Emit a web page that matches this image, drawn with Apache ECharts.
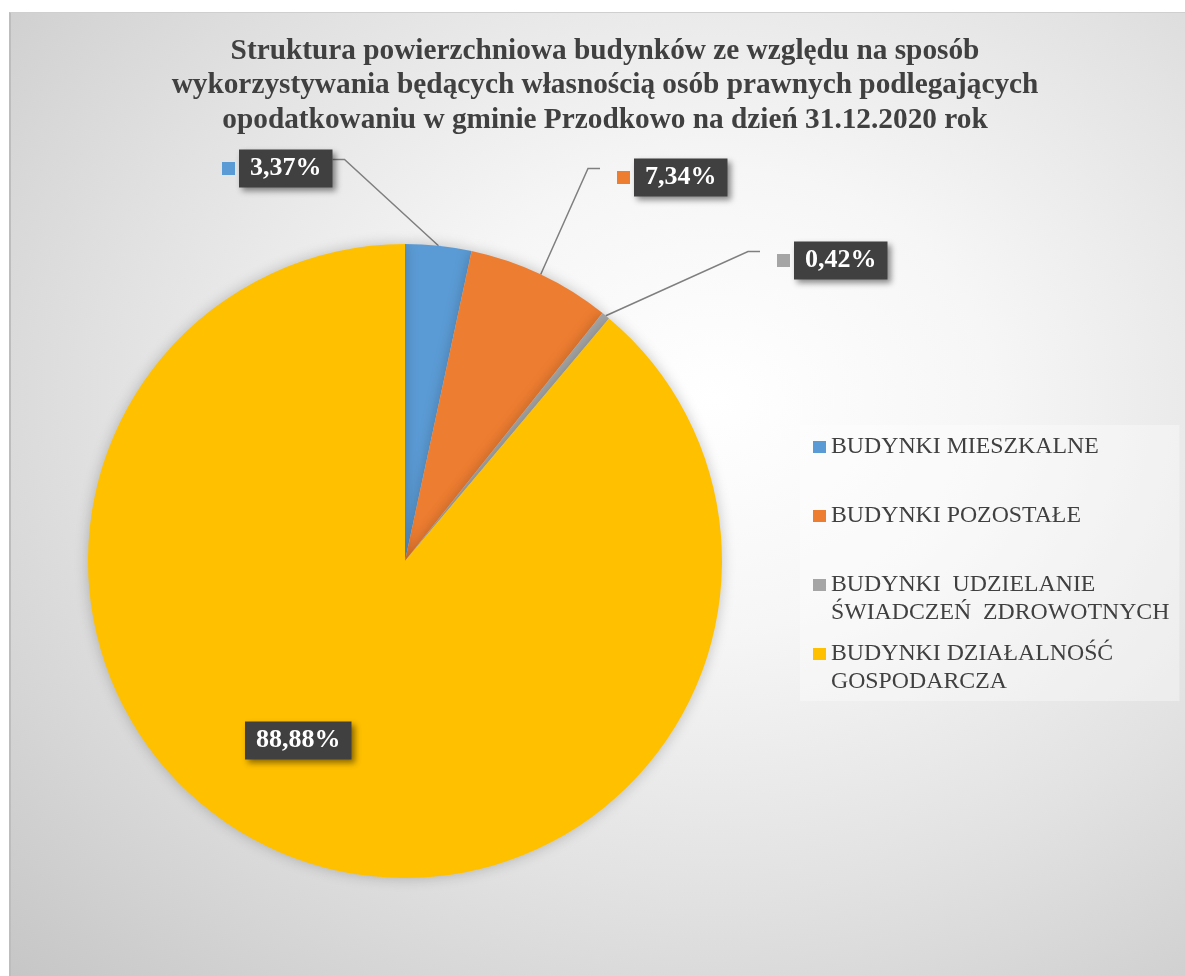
<!DOCTYPE html>
<html>
<head>
<meta charset="utf-8">
<script src="https://cdn.jsdelivr.net/npm/echarts@6/dist/echarts.min.js"></script>
<style>
html,body{margin:0;padding:0;background:#fff;width:1185px;height:976px;overflow:hidden;}
#bg{position:absolute;left:9px;top:12px;width:1174px;height:964px;border-left:2px solid #bdbdbd;border-top:1px solid #cfcfcf;
background:radial-gradient(ellipse farthest-corner at 60% 40%, #ffffff 0%, #f6f6f6 28%, #e2e2e2 60%, #c6c6c6 100%);}
#chart{position:absolute;left:0;top:0;width:1185px;height:976px;}
</style>
</head>
<body>
<div id="bg"></div>
<div id="chart"></div>
<script>
const titleText = 'Struktura powierzchniowa budynków ze względu na sposób\nwykorzystywania będących własnością osób prawnych podlegających\nopodatkowaniu w gminie Przodkowo na dzień 31.12.2020 rok';
const categories = ['BUDYNKI MIESZKALNE', 'BUDYNKI POZOSTAŁE', 'BUDYNKI  UDZIELANIE ŚWIADCZEŃ  ZDROWOTNYCH', 'BUDYNKI DZIAŁALNOŚĆ GOSPODARCZA'];
const legendLabels = ['BUDYNKI MIESZKALNE\n ', 'BUDYNKI POZOSTAŁE\n ', 'BUDYNKI  UDZIELANIE\nŚWIADCZEŃ  ZDROWOTNYCH', 'BUDYNKI DZIAŁALNOŚĆ\nGOSPODARCZA'];
const values = [3.37, 7.34, 0.42, 88.88];

const colors = ['#5B9BD5', '#ED7D31', '#A5A5A5', '#FFC000'];
const fmt = v => v.toFixed(2).replace('.', ',') + '%';

const chart = echarts.init(document.getElementById('chart'), null, {renderer: 'canvas'});

const rich = {
  s: {width: 1, height: 23, lineHeight: 23},
  l: {width: 17, height: 13, verticalAlign: 'middle'},
  g: {width: 4, height: 13, verticalAlign: 'middle'},
  b: {
    backgroundColor: '#404040', color: '#ffffff', fontFamily: 'Liberation Serif', fontWeight: 'bold',
    fontSize: 26, lineHeight: 28, padding: [6, 11, 6, 11], verticalAlign: 'middle',
    shadowColor: 'rgba(0,0,0,0.45)', shadowBlur: 6, shadowOffsetX: 3, shadowOffsetY: 3
  }
};
colors.forEach((c, i) => { rich['m' + i] = {width: 13, height: 13, backgroundColor: c, verticalAlign: 'middle'}; });

const legendIcon = 'path://M0,0 L0.01,0 M0,8 L13,8 L13,20 L0,20 Z M0,56 L0.01,56';

const option = {
  animation: false,
  color: colors,
  title: {
    text: titleText,
    left: 605,
    textAlign: 'center',
    top: 34,
    padding: 0,
    textStyle: {fontFamily: 'Liberation Serif', fontWeight: 'bold', fontSize: 29.3, lineHeight: 34.5, color: '#404040'}
  },
  legend: {
    orient: 'vertical',
    left: 800,
    top: 425,
    padding: [8, 10, 5, 13],
    backgroundColor: 'rgba(255,255,255,0.35)',
    itemWidth: 13,
    itemHeight: 56,
    itemGap: 13,
    icon: legendIcon,
    itemStyle: {borderWidth: 0},
    data: categories,
    formatter: name => legendLabels[categories.indexOf(name)],
    textStyle: {fontFamily: 'Liberation Serif', fontSize: 23.8, lineHeight: 28, color: '#404040'}
  },
  series: [{
    type: 'pie',
    center: [405, 561],
    radius: 317,
    startAngle: 90,
    clockwise: true,
    avoidLabelOverlap: false,
    emphasis: {disabled: true},
    itemStyle: {borderWidth: 0, shadowBlur: 14, shadowColor: 'rgba(0,0,0,0.22)'},
    label: {
      show: true,
      position: 'outside',
      formatter: p => '{s|}\n{l|}{m' + p.dataIndex + '|}{g|}{b|' + fmt(p.value) + '}',
      rich: rich
    },
    labelLine: {show: true, length: 20, length2: 12, lineStyle: {color: '#7f7f7f', width: 1.5}},
    labelLayout: function (p) {
      const pos = [[205, 157], [600, 166], [760, 249], [211, 729]];
      return {x: pos[p.dataIndex][0], y: pos[p.dataIndex][1], align: 'left', verticalAlign: 'middle'};
    },
    data: categories.map((c, i) => {
      const d = {name: c, value: values[i]};
      if (i === 3) { d.label = {position: 'inside'}; d.labelLine = {show: false}; }
      return d;
    })
  }]
};
chart.setOption(option);
</script>
</body>
</html>
